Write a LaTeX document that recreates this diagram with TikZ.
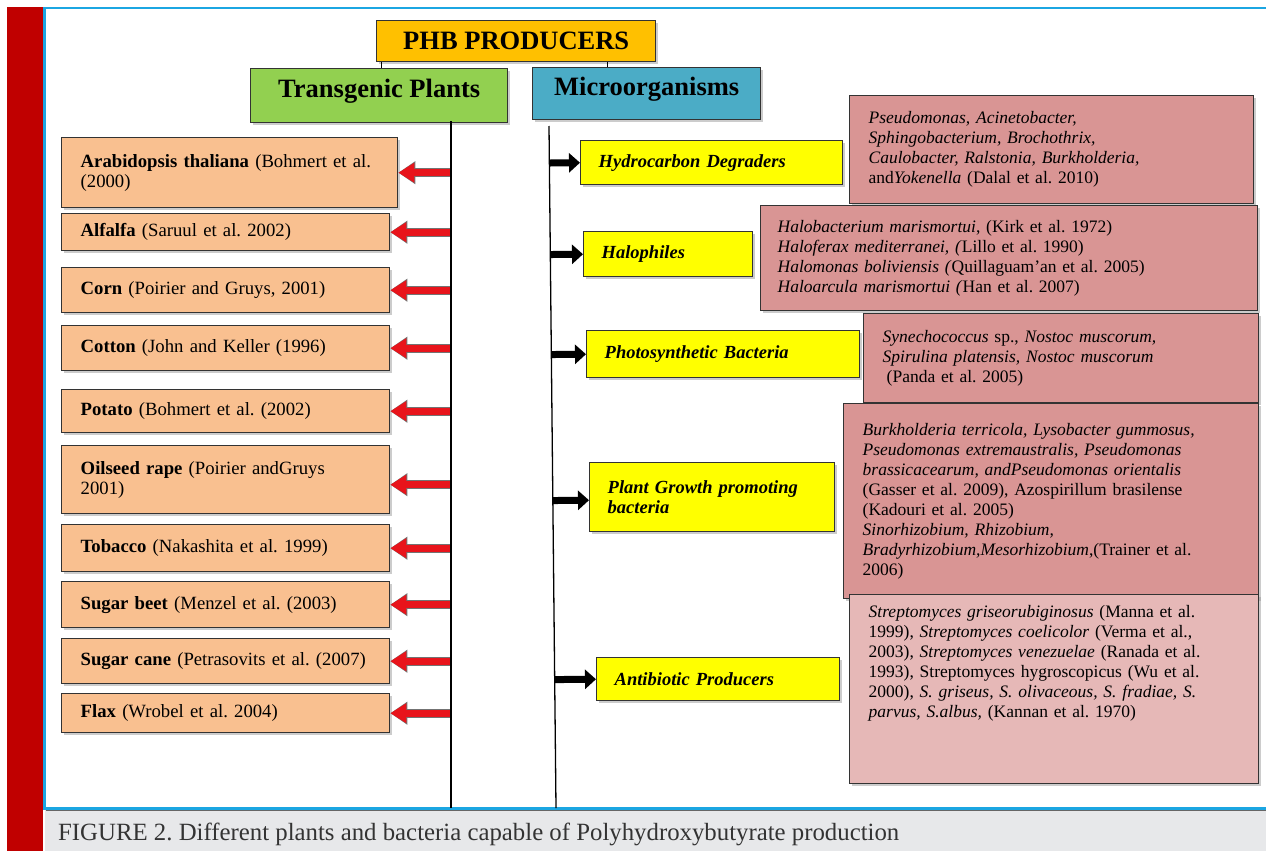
\documentclass[tikz,border=0pt]{standalone}
\usepackage{fontspec}
\setmainfont{Liberation Serif}
\usetikzlibrary{arrows.meta,calc,shadows}
\frenchspacing

\definecolor{barred}{HTML}{C00000}
\definecolor{frameblue}{HTML}{1BA6E2}
\definecolor{captiongray}{HTML}{E7E8EA}
\definecolor{headerorange}{HTML}{FFC000}
\definecolor{headergreen}{HTML}{92D050}
\definecolor{headerblue}{HTML}{4BACC6}
\definecolor{peach}{HTML}{F9C090}
\definecolor{groupyellow}{HTML}{FFFF00}
\definecolor{speciespink}{HTML}{D99594}
\definecolor{lightpink}{HTML}{E6B8B7}
\definecolor{arrowred}{HTML}{E8141B}

\begin{document}
\begin{tikzpicture}[x=1pt, y=-1pt,
  box/.style={draw=black!80, line width=1.4pt, anchor=north west, inner ysep=0pt, align=left,
    drop shadow={shadow xshift=2pt, shadow yshift=-2pt, fill=black!40}},
  header/.style={box, inner xsep=0pt, align=center, font=\fontsize{26.5}{30}\selectfont\bfseries},
  plantbox/.style={box, fill=peach, inner xsep=19pt, minimum width=328pt, text width=290pt,
    font=\fontsize{18.7}{20}\selectfont},
  groupbox/.style={box, fill=groupyellow, inner xsep=18pt, font=\fontsize{18.5}{20}\selectfont\bfseries\itshape},
  speciesbox/.style={box, fill=speciespink, inner xsep=19pt, font=\fontsize{17.5}{20}\selectfont},
  trunk/.style={draw=black, line width=1.3pt},
  redarrow/.style={draw=arrowred, line width=7pt, -{Triangle[length=16pt, width=19pt]},
    preaction={draw=black!55, line width=9pt, -{Triangle[length=17pt, width=22pt]}}},
  blackarrow/.style={draw=black, line width=7pt, -{Triangle[length=11pt, width=19pt]}}]

  \useasboundingbox (0,0) rectangle (1266,851);

  % frame and caption
  \fill[barred] (7,7) rectangle (43,851);
  \fill[captiongray] (45,810) rectangle (1266,851);
  \draw[frameblue, line width=2.5pt] (43,8) -- (1266,8);
  \draw[frameblue, line width=2.5pt] (44.5,8) -- (44.5,810);
  \draw[frameblue, line width=3pt] (44,808.5) -- (1266,808.5);
  \draw[black!60, line width=0.8pt] (46,810.6) -- (1266,810.6);
  \node[anchor=base west, inner sep=0pt, text=black!80, font=\fontsize{24.8}{28}\selectfont] (caption) at (58,840)
    {FIGURE 2. Different plants and bacteria capable of Polyhydroxybutyrate production};

  % headers
  \node[header, fill=headerorange, minimum width=279pt, minimum height=41pt] (phb) at (376,20) {PHB PRODUCERS};
  \node[header, fill=headergreen, minimum width=257pt, minimum height=54pt, text height=17pt, text depth=14pt] (tp) at (250,68) {Transgenic Plants};
  \node[header, fill=headerblue, minimum width=228pt, minimum height=52pt, text height=17pt, text depth=14pt] (mo) at (532,67) {Microorganisms};

  \draw[trunk, line width=1pt] ([xshift=5pt]phb.south west) -- ([xshift=5pt]phb.south west |- tp.north);
  \draw[trunk, line width=1pt] ([xshift=231pt]phb.south west) -- ([xshift=231pt]phb.south west |- mo.north);

  % transgenic plants
  \node[plantbox, text width=298pt, minimum width=336pt, minimum height=70pt] (arab) at (61,137)
    {\textbf{Arabidopsis thaliana} (Bohmert et al.\\(2000)};
  \node[plantbox, minimum height=37pt] (alfalfa) at (61,213) {\textbf{Alfalfa} (Saruul et al. 2002)};
  \node[plantbox, minimum height=45pt] (corn) at (61,267) {\textbf{Corn} (Poirier and Gruys, 2001)};
  \node[plantbox, minimum height=45pt] (cotton) at (61,325) {\textbf{Cotton} (John and Keller (1996)};
  \node[plantbox, minimum height=43pt] (potato) at (61,389) {\textbf{Potato} (Bohmert et al. (2002)};
  \node[plantbox, minimum height=68pt] (oilseed) at (61,445) {\textbf{Oilseed rape} (Poirier andGruys\\2001)};
  \node[plantbox, minimum height=47pt] (tobacco) at (61,524) {\textbf{Tobacco} (Nakashita et al. 1999)};
  \node[plantbox, minimum height=46pt] (sugarbeet) at (61,581) {\textbf{Sugar beet} (Menzel et al. (2003)};
  \node[plantbox, minimum height=45pt] (sugarcane) at (61,638) {\textbf{Sugar cane} (Petrasovits et al.~(2007)};
  \node[plantbox, minimum height=39pt] (flax) at (61,693) {\textbf{Flax} (Wrobel et al. 2004)};

  \coordinate (plantline) at (451,121);
  \coordinate (plantend) at (451,808);
  \draw[redarrow] (plantline |- arab.east) -- (arab.east);
  \draw[redarrow] (plantline |- alfalfa.east) -- (alfalfa.east);
  \draw[redarrow] (plantline |- corn.east) -- (corn.east);
  \draw[redarrow] (plantline |- cotton.east) -- (cotton.east);
  \draw[redarrow] (plantline |- potato.east) -- (potato.east);
  \draw[redarrow] ([yshift=-5pt]plantline |- oilseed.east) -- ([yshift=-5pt]oilseed.east);
  \draw[redarrow] (plantline |- tobacco.east) -- (tobacco.east);
  \draw[redarrow] (plantline |- sugarbeet.east) -- (sugarbeet.east);
  \draw[redarrow] (plantline |- sugarcane.east) -- (sugarcane.east);
  \draw[redarrow] (plantline |- flax.east) -- (flax.east);
  \draw[trunk] (plantline) -- (plantend);

  % microorganism groups
  \node[groupbox, text width=226pt, minimum height=44pt] (hydro) at (580,140) {Hydrocarbon Degraders};
  \node[groupbox, text width=133pt, minimum height=45pt] (halo) at (583,231) {Halophiles};
  \node[groupbox, text width=237pt, minimum height=47pt] (photo) at (586,330) {Photosynthetic Bacteria};
  \node[groupbox, text width=209pt, minimum height=69pt] (pgpb) at (589,462) {Plant Growth promoting\\bacteria};
  \node[groupbox, text width=207pt, minimum height=43pt] (anti) at (596,657) {Antibiotic Producers};

  \coordinate (microline) at (549,126);
  \coordinate (microend) at (556,808);
  \draw[trunk] (microline) -- (microend);
  \draw[blackarrow] ($(microline)!(hydro.west)!(microend)$) -- (hydro.west);
  \draw[blackarrow] ($(microline)!(halo.west)!(microend)$) -- (halo.west);
  \draw[blackarrow] ($(microline)!(photo.west)!(microend)$) -- (photo.west);
  \draw[blackarrow] ($(microline)!([yshift=-3pt]pgpb.west)!(microend)$) -- ([yshift=-3pt]pgpb.west);
  \draw[blackarrow] ($(microline)!(anti.west)!(microend)$) -- (anti.west);

  % species lists
  \node[speciesbox, text width=366pt, minimum height=108pt] (hydrolist) at (849,95)
    {\textit{Pseudomonas, Acinetobacter,}\\
     \textit{Sphingobacterium, Brochothrix,}\\
     \textit{Caulobacter, Ralstonia, Burkholderia,}\\
     and\textit{Yokenella} (Dalal et al. 2010)};
  \node[speciesbox, inner xsep=17pt, text width=463pt, minimum height=105pt] (halolist) at (760,205)
    {\textit{Halobacterium marismortui}, (Kirk et al. 1972)\\
     \textit{Haloferax mediterranei, (}Lillo et al. 1990)\\
     \textit{Halomonas boliviensis (}Quillaguam'an et al. 2005)\\
     \textit{Haloarcula marismortui (}Han et al. 2007)};
  \node[speciesbox, text width=357pt, minimum height=89pt] (photolist) at (863,313)
    {\textit{Synechococcus} sp., \textit{Nostoc muscorum,}\\
     \textit{Spirulina platensis, Nostoc muscorum}\\
     \hspace{4pt}(Panda et al. 2005)};
  \node[speciesbox, text width=377pt, minimum height=195pt] (pgpblist) at (843,403)
    {\textit{Burkholderia terricola, Lysobacter gummosus,}\\
     \textit{Pseudomonas extremaustralis, Pseudomonas}\\
     \textit{brassicacearum, andPseudomonas orientalis}\\
     (Gasser et al. 2009), Azospirillum brasilense\\
     (Kadouri et al. 2005)\\
     \textit{Sinorhizobium, Rhizobium,}\\
     \textit{Bradyrhizobium,Mesorhizobium},(Trainer et al.\\
     2006)};
  \node[speciesbox, fill=lightpink, text width=371pt, minimum height=189pt] (antilist) at (849,594)
    {\textit{Streptomyces griseorubiginosus} (Manna et al.\\
     1999), \textit{Streptomyces coelicolor} (Verma et al.,\\
     2003), \textit{Streptomyces venezuelae} (Ranada et al.\\
     1993), Streptomyces hygroscopicus (Wu et al.\\
     2000), \textit{S. griseus, S. olivaceous, S. fradiae, S.}\\
     \textit{parvus, S.albus,} (Kannan et al. 1970)\\[35pt]\mbox{}};
\end{tikzpicture}
\end{document}
